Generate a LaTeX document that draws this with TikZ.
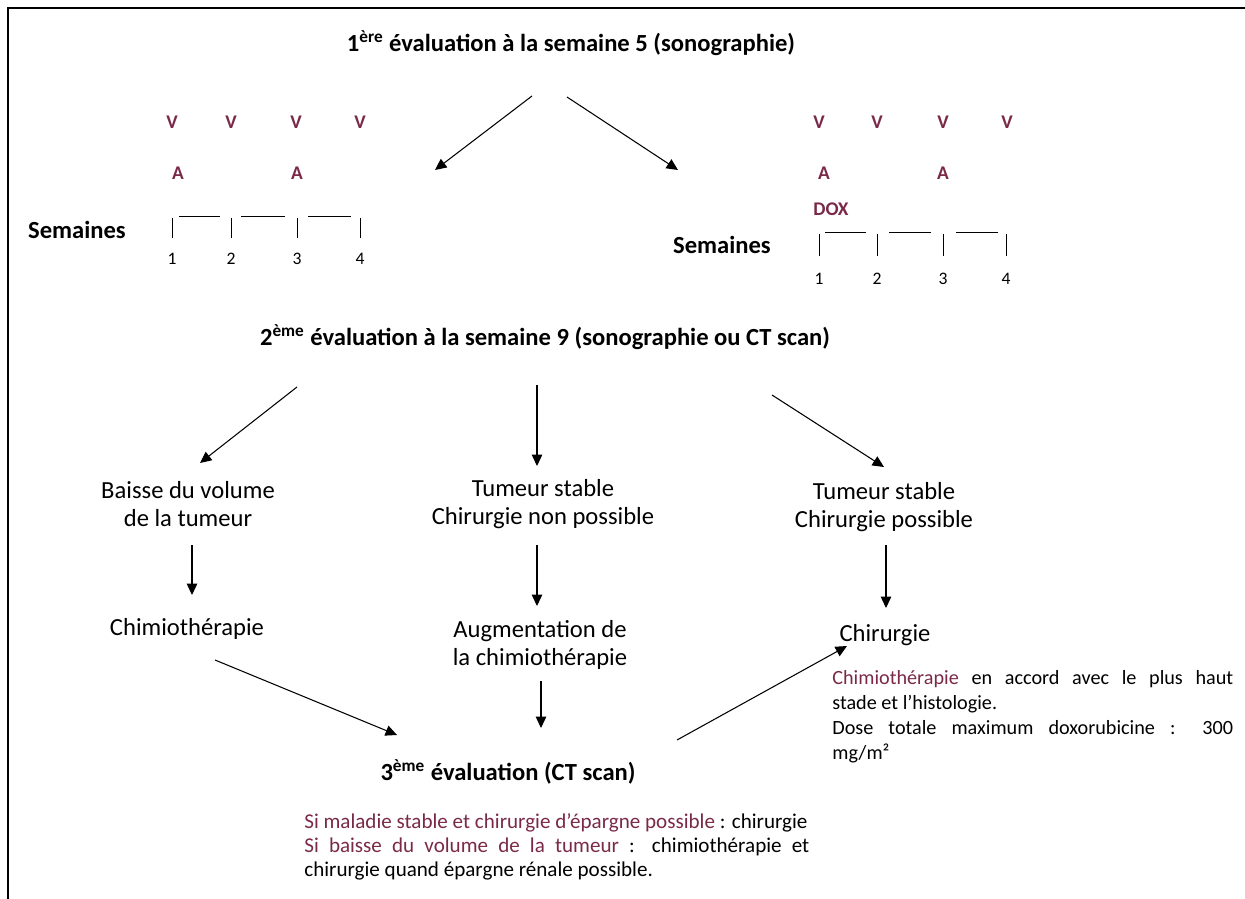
\documentclass[tikz,border=0pt]{standalone}
\usepackage{fontspec}
\setmainfont{Carlito}
\usetikzlibrary{arrows.meta}
\definecolor{wine}{RGB}{122,42,72}
\tikzset{
    flow/.style={-{Triangle[length=6.5pt,width=6pt]}, line width=0.6pt},
    head/.style={font=\bfseries\fontsize{14}{16}\selectfont},
    step text/.style={font=\fontsize{14}{15.5}\selectfont, align=center},
    drug/.style={text=wine, font=\bfseries\fontsize{11}{12}\selectfont},
    num/.style={font=\fontsize{10}{11}\selectfont},
    note/.style={align=justify, anchor=north west, inner sep=0pt}
}
\begin{document}
\begin{tikzpicture}[x=0.02cm,y=-0.02cm]
    \useasboundingbox (0,0) rectangle (1245,899);
    %% frame
    \draw[line width=1.2pt] (1245,8) -- (8,8) -- (8,899);
    %% first evaluation
    \node[head] (eval1) at (571,43) {1\textsuperscript{ère} évaluation à la semaine 5 (sonographie)};
    \coordinate (e1l) at (532,96);
    \coordinate (e1r) at (567,97);
    \coordinate (armL) at (435,170);
    \coordinate (armR) at (678,170);
    \draw[flow] (e1l) -- (armL);
    \draw[flow] (e1r) -- (armR);
    %% left schedule
    \node[head] (semL) at (77,230) {Semaines};
    \foreach \p [count=\i] in {172,231,296,360}
        \node[drug] (lv\i) at (\p,122) {V};
    \node[drug] (la1) at (178,173) {A};
    \node[drug] (la3) at (297,173) {A};
    \foreach \p/\n in {172/1,231/2,297/3,360/4} {
        \draw (\p,218) -- (\p,238);
        \node[num] (ln\n) at (\p,259) {\n};
    }
    \foreach \a/\b in {179/220,241/285,308/351}
        \draw (\a,216) -- (\b,216);
    %% right schedule
    \node[head] (semR) at (722,245) {Semaines};
    \foreach \p [count=\i] in {819,877,943,1007}
        \node[drug] (rv\i) at (\p,122) {V};
    \node[drug] (ra1) at (824,173) {A};
    \node[drug] (ra3) at (943,173) {A};
    \node[drug] (dox) at (831,209) {DOX};
    \foreach \p/\n in {819/1,877/2,943/3,1006/4} {
        \draw (\p,234) -- (\p,256);
        \node[num] (rn\n) at (\p,279) {\n};
    }
    \foreach \a/\b in {825/866,889/931,956/998}
        \draw (\a,232) -- (\b,232);
    %% second evaluation
    \node[head] (eval2) at (545,337) {2\textsuperscript{ème} évaluation à la semaine 9 (sonographie ou CT scan)};
    \coordinate (e2l) at (297,387);
    \coordinate (e2m) at (537,385);
    \coordinate (e2r) at (772,395);
    \node[step text] (drop) at (188,504) {Baisse du volume\\de la tumeur};
    \node[step text] (stab) at (543,504) {Tumeur stable\\Chirurgie non possible};
    \node[step text] (oper) at (884,507) {Tumeur stable\\Chirurgie possible};
    \draw[flow] (e2l) -- (200,463);
    \draw[flow] (e2m) -- (537,466);
    \draw[flow] (e2r) -- (884,467);
    \node[step text] (chemo) at (187,629) {Chimiothérapie};
    \node[step text] (boost) at (540,645) {Augmentation de\\la chimiothérapie};
    \node[step text] (surg) at (885,635) {Chirurgie};
    \draw[flow] (192,545) -- (192,595);
    \draw[flow] (537,545) -- (537,606);
    \draw[flow] (886,545) -- (886,608);
    %% third evaluation
    \node[head] (eval3) at (508,772) {3\textsuperscript{ème} évaluation (CT scan)};
    \draw[flow] (215,660) -- (397,735);
    \draw[flow] (541,681) -- (541,728);
    \draw[flow] (677,740) -- (847,646);
    %% notes
    \node[note, font=\fontsize{11.5}{14.2}\selectfont, text width=8.02cm] (noteR) at (832,670) {\textcolor{wine}{Chimiothérapie} en accord avec le plus haut\linebreak stade et l’histologie.\par Dose totale maximum doxorubicine : 300\linebreak mg/m²};
    \node[note, font=\fontsize{12}{13.6}\selectfont, text width=10.1cm] (noteB) at (304,813) {\textcolor{wine}{Si maladie stable et chirurgie d’épargne possible} : chirurgie\par \textcolor{wine}{Si baisse du volume de la tumeur} : chimiothérapie et\linebreak chirurgie quand épargne rénale possible.};
\end{tikzpicture}
\end{document}
